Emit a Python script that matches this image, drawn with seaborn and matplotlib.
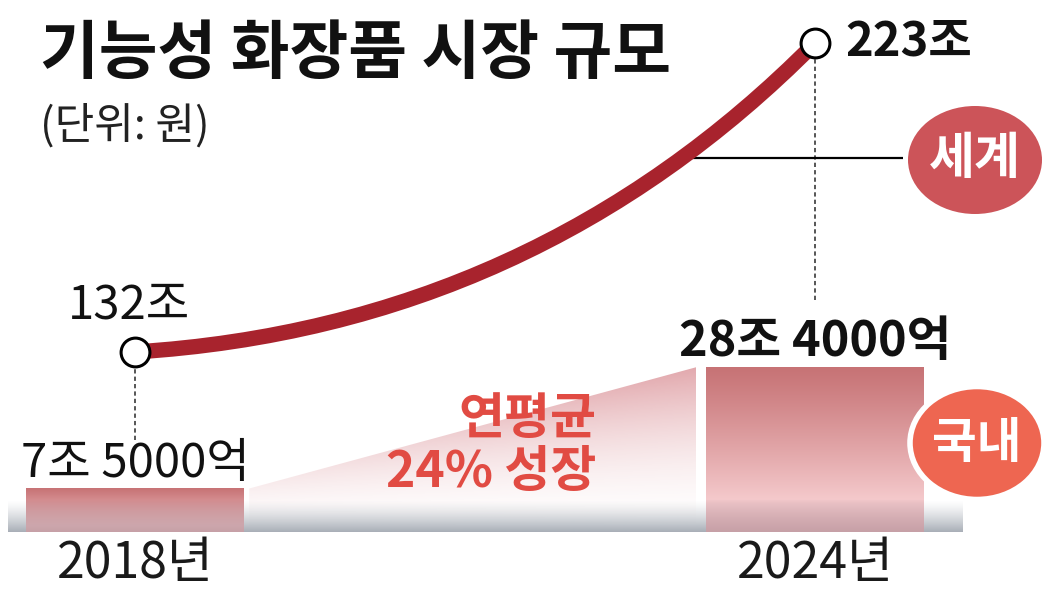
import numpy as np
import matplotlib
matplotlib.use('Agg')
import matplotlib.pyplot as plt
from matplotlib.patches import Ellipse, FancyArrowPatch, Polygon
import seaborn as sns

# data (unit: 조 원)
years = ['2018년', '2024년']
domestic = [7.5, 28.4]
domestic_labels = ['7조 5000억', '28조 4000억']
world = [132, 223]
world_labels = ['132조', '223조']
growth_label = '연평균\n24% 성장'

sns.set_theme(style='white')
plt.rcParams['font.family'] = ['Noto Sans CJK KR', 'DejaVu Sans']

W, H = 1042, 591
fig = plt.figure(figsize=(W / 100, H / 100), dpi=100)
fig.patch.set_facecolor('white')
ax = fig.add_axes([0, 59 / H, 1, 532 / H])
ax2 = ax.twinx()

# domestic bars
sns.barplot(x=years, y=domestic, width=0.32, color='white', ax=ax, zorder=3)
bars = list(ax.patches)

strip_top = 5.5
bar_top = np.array([0.78, 0.45, 0.46])
bar_light = np.array([0.97, 0.81, 0.82])
bar_base = np.array([0.62, 0.48, 0.52])
for bar in bars:
    x0, w, h = bar.get_x(), bar.get_width(), bar.get_height()
    yv = np.linspace(h, 0, 200)
    rel = (h - yv) / h
    t = np.clip(rel / 0.85, 0, 1) ** 1.1
    col = bar_top * (1 - t[:, None]) + bar_light * t[:, None]
    mix = np.clip((strip_top - yv) / strip_top, 0, 1) ** 0.6 * 0.55
    col = col * (1 - mix[:, None]) + bar_base * mix[:, None]
    img = np.repeat(col[:, None, :], 2, axis=1)
    ax.imshow(img, extent=[x0, x0 + w, 0, h], aspect='auto', zorder=3,
              interpolation='bilinear')
    bar.set_facecolor('none')
    bar.set_edgecolor('none')

# grey floor strip
ramp = np.linspace(0, 1, 100)[:, None]
strip = np.zeros((100, 2, 4))
strip[..., :3] = [0.60, 0.63, 0.67]
strip[..., 3] = 0.85 * ramp ** 1.3
ax.imshow(strip, extent=[-0.187, 1.216, 0, strip_top], aspect='auto', zorder=2,
          interpolation='bilinear')

# growth wedge between the bars
tx0 = bars[0].get_x() + bars[0].get_width() + 0.008
tx1 = bars[1].get_x() - 0.015
xs = np.linspace(0, 1, 300)
ys = np.linspace(domestic[1], 0, 200)
top_line = domestic[0] + (domestic[1] - domestic[0]) * xs
yrel = np.clip(ys[:, None] / top_line[None, :], 0, 1)
wedge = np.zeros((200, 300, 4))
wedge[..., :3] = [0.86, 0.58, 0.60]
wedge[..., 3] = 0.8 * (0.2 + 0.8 * xs[None, :]) * yrel ** 1.8
im = ax.imshow(wedge, extent=[tx0, tx1, 0, domestic[1]], aspect='auto', zorder=1,
               interpolation='bilinear')
poly = Polygon([[tx0, 0], [tx0, domestic[0]], [tx1, domestic[1]], [tx1, 0]],
               closed=True, facecolor='none', edgecolor='none')
ax.add_patch(poly)
im.set_clip_path(poly)

ax.text(0.679, 14.8, growth_label, ha='right', va='center', multialignment='right',
        fontsize=36, fontweight='bold', color='#e14b43', linespacing=1.05, zorder=6)

for i, lab in enumerate(domestic_labels):
    ax.annotate(lab, xy=(i, domestic[i]), xytext=(0, 8), textcoords='offset points',
                ha='center', va='baseline', fontsize=34 if i == 0 else 35,
                fontweight='normal' if i == 0 else 'bold', color='#111111')

# world curve
curve = FancyArrowPatch((0, world[0]), (1, world[1]), transform=ax2.transData,
                        connectionstyle='arc3,rad=0.19', arrowstyle='-',
                        color='#a8232d', linewidth=11, shrinkA=0, shrinkB=0,
                        capstyle='butt', zorder=4)
ax2.add_patch(curve)
sns.scatterplot(x=[0, 1], y=world, s=430, color='white', edgecolor='black',
                linewidth=2.2, zorder=6, ax=ax2, legend=False)

ax2.vlines(0, 106, world[0] - 4.5, colors='#555555', linestyles=(0, (2.2, 1.6)),
           linewidth=1.4, zorder=3)
ax2.vlines(1, 147.3, world[1] - 4.5, colors='#555555', linestyles=(0, (2.2, 1.6)),
           linewidth=1.4, zorder=3)
ax2.hlines(189, 0.79, 1.13, colors='black', linewidth=1.6, zorder=3)

ax2.annotate(world_labels[0], xy=(0, world[0]), xytext=(-4, 24), textcoords='offset points',
             ha='center', va='baseline', fontsize=34, color='#111111')
ax2.annotate(world_labels[1], xy=(1, world[1]), xytext=(22, -9), textcoords='offset points',
             ha='left', va='baseline', fontsize=34, fontweight='bold', color='#111111')

# axes cosmetics
ax.set_xlim(-0.1985, 1.3338)
ax.set_ylim(0, 91.72)
ax2.set_ylim(78.99, 235.66)
ax.set(xlabel='', ylabel='')
ax2.set(xlabel='', ylabel='')
ax.set_yticks([])
ax2.set_yticks([])
ax.tick_params(axis='x', length=0, labelsize=36, pad=4, labelcolor='#1a1a1a')
for a in (ax, ax2):
    for sp in a.spines.values():
        sp.set_visible(False)

# legend badges
fig.add_artist(Ellipse((975 / W, 1 - 160 / H), 134 / W, 108 / H, transform=fig.transFigure,
                       facecolor='#cc5459', edgecolor='none', zorder=10))
fig.text(975 / W, 1 - 160 / H, '세계', ha='center', va='center', fontsize=36,
         fontweight='bold', color='white', zorder=11)
fig.add_artist(Ellipse((977 / W, 1 - 443 / H), 134 / W, 113 / H, transform=fig.transFigure,
                       facecolor='#ee6651', edgecolor='white', linewidth=4, zorder=10))
fig.text(977 / W, 1 - 443 / H, '국내', ha='center', va='center', fontsize=35,
         fontweight='bold', color='white', zorder=11)

# titles
fig.text(40 / W, 1 - 54 / H, '기능성 화장품 시장 규모', ha='left', va='center',
         fontsize=46, fontweight='bold', color='#111111')
fig.text(40 / W, 1 - 126 / H, '(단위: 원)', ha='left', va='center',
         fontsize=31, color='#222222')

fig.savefig('out.png', dpi=100)
